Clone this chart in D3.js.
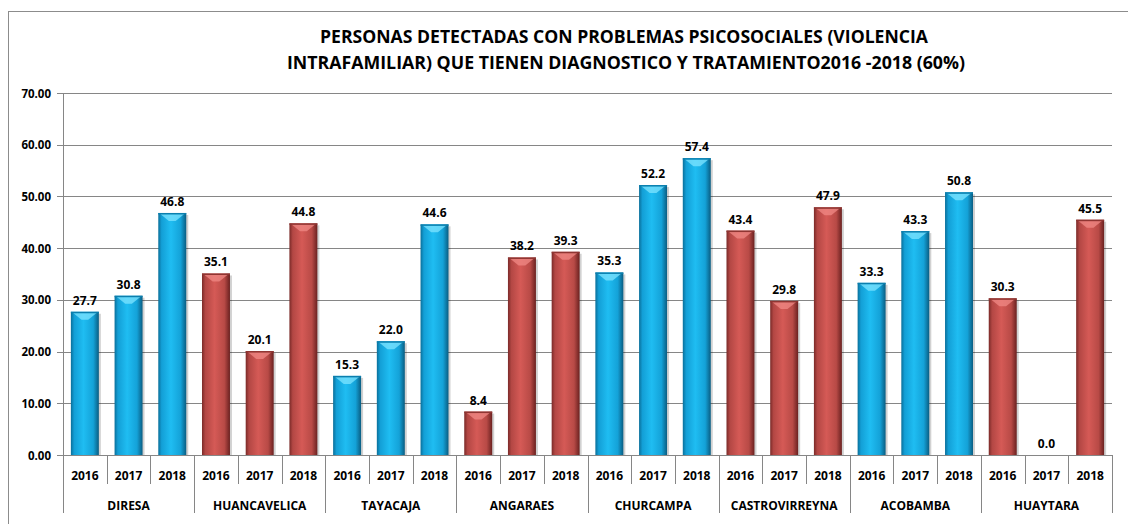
<!DOCTYPE html>
<html><head><meta charset="utf-8">
<script src="https://cdn.jsdelivr.net/npm/d3@7"></script>
<style>body{margin:0;background:#fff}svg{display:block}</style>
</head><body>
<script>
const groups = ["DIRESA","HUANCAVELICA","TAYACAJA","ANGARAES","CHURCAMPA","CASTROVIRREYNA","ACOBAMBA","HUAYTARA"];
const years = ["2016","2017","2018"];
const values = [
  [27.7,30.8,46.8],
  [35.1,20.1,44.8],
  [15.3,22.0,44.6],
  [8.4,38.2,39.3],
  [35.3,52.2,57.4],
  [43.4,29.8,47.9],
  [33.3,43.3,50.8],
  [30.3,0.0,45.5]
];
const groupColors = ["blue","red","blue","red","blue","red","blue","red"];
const yTicks = [0,10,20,30,40,50,60,70];
const titleLines = ["PERSONAS DETECTADAS CON PROBLEMAS PSICOSOCIALES (VIOLENCIA","INTRAFAMILIAR) QUE TIENEN DIAGNOSTICO Y TRATAMIENTO2016 -2018 (60%)"];

const W=1128,H=524;
const svg=d3.select("body").append("svg").attr("width",W).attr("height",H);
const defs=svg.append("defs");
function grad(id,stops){
  const g=defs.append("linearGradient").attr("id",id).attr("x1","0").attr("x2","1").attr("y1","0").attr("y2","0");
  stops.forEach(s=>g.append("stop").attr("offset",s[0]).attr("stop-color",s[1]));
}
grad("gblue",[[0,"#0a6f9a"],[0.12,"#139fd6"],[0.45,"#1fbdf2"],[0.8,"#14a2d8"],[1,"#0a5d82"]]);
grad("gred",[[0,"#7a2a28"],[0.12,"#b34744"],[0.45,"#d55a56"],[0.8,"#b84a46"],[1,"#6a2120"]]);

// chart border
svg.append("rect").attr("x",8.5).attr("y",11.5).attr("width",1130).attr("height",530).attr("fill","none").attr("stroke","#8c8c8c").attr("stroke-width",1);

const x0=63,x1=1112,yTop=93,yBot=455;
const y=d3.scaleLinear().domain([0,70]).range([yBot,yTop]);
const xg=d3.scaleBand().domain(groups).range([x0,x1]).padding(0);
const xy=d3.scaleBand().domain(years).range([0,xg.bandwidth()]).paddingInner(0.36).paddingOuter(0.18);
const slot=xg.bandwidth()/3;

// title
const tt=svg.append("g").attr("font-family","'Open Sans','Liberation Sans',Arial,sans-serif").attr("font-weight","bold").attr("font-size",17).attr("fill","#000").attr("text-anchor","middle");
tt.append("text").attr("x",624).attr("y",43).attr("textLength",608).attr("lengthAdjust","spacingAndGlyphs").text(titleLines[0]);
tt.append("text").attr("x",626).attr("y",69).attr("textLength",678).attr("lengthAdjust","spacingAndGlyphs").text(titleLines[1]);

// gridlines
svg.append("g").selectAll("line").data(yTicks).join("line")
  .attr("x1",x0-6).attr("x2",x1).attr("y1",d=>Math.round(y(d))+0.5).attr("y2",d=>Math.round(y(d))+0.5)
  .attr("stroke","#868686").attr("stroke-width",1);
svg.append("line").attr("x1",x0+0.5).attr("x2",x0+0.5).attr("y1",yTop).attr("y2",yBot).attr("stroke","#868686");

// y labels
svg.append("g").selectAll("text").data(yTicks).join("text")
  .attr("x",51).attr("y",d=>y(d)+4.5).attr("text-anchor","end")
  .attr("font-family","'Open Sans','Liberation Sans',Arial,sans-serif").attr("font-weight","bold").attr("font-size",11.5)
  .text(d=>d3.format(".2f")(d));

// bars
const data=[];
groups.forEach((g,i)=>years.forEach((yr,j)=>data.push({g,yr,v:values[i][j],c:groupColors[i]})));
const bars=svg.append("g");
data.forEach(d=>{
  const bx=xg(d.g)+xy(d.yr), bw=xy.bandwidth(), top=y(d.v), h=yBot-top;
  if(h<=0) return;
  bars.append("rect").attr("x",bx+2).attr("y",top+2).attr("width",bw).attr("height",h-2).attr("fill","#000").attr("opacity",0.18);
  bars.append("rect").attr("x",bx).attr("y",top).attr("width",bw).attr("height",h).attr("fill",`url(#g${d.c})`);
  const hl=d.c==="blue"?"#7fe4ff":"#f08a85";
  bars.append("path").attr("d",`M${bx+2},${top+1} L${bx+bw-2},${top+1} L${bx+bw*0.62},${top+8} L${bx+bw*0.38},${top+8} Z`).attr("fill",hl).attr("opacity",0.75);
  bars.append("rect").attr("x",bx).attr("y",top).attr("width",bw).attr("height",1.5).attr("fill",d.c==="blue"?"#0b7fae":"#8f3532");
});

// value labels
svg.append("g").selectAll("text").data(data).join("text")
  .attr("x",d=>xg(d.g)+xy(d.yr)+xy.bandwidth()/2).attr("y",d=>y(d.v)-7)
  .attr("text-anchor","middle").attr("font-family","'Open Sans','Liberation Sans',Arial,sans-serif").attr("font-weight","bold").attr("font-size",12)
  .text(d=>d3.format(".1f")(d.v));

// x axis
svg.append("line").attr("x1",x0-6).attr("x2",x1).attr("y1",yBot+0.5).attr("y2",yBot+0.5).attr("stroke","#868686");
const ax=svg.append("g").attr("stroke","#868686");
for(let k=0;k<=24;k++){
  const xx=Math.round(x0+k*slot)+0.5;
  const isG=k%3===0;
  ax.append("line").attr("x1",xx).attr("x2",xx).attr("y1",yBot).attr("y2",isG?513:484);
}
svg.append("g").selectAll("text").data(data).join("text")
  .attr("x",d=>xg(d.g)+xy(d.yr)+xy.bandwidth()/2).attr("y",480)
  .attr("text-anchor","middle").attr("font-family","'Open Sans','Liberation Sans',Arial,sans-serif").attr("font-weight","bold").attr("font-size",12)
  .text(d=>d.yr);
svg.append("g").selectAll("text").data(groups).join("text")
  .attr("x",d=>xg(d)+xg.bandwidth()/2).attr("y",510)
  .attr("text-anchor","middle").attr("font-family","'Open Sans','Liberation Sans',Arial,sans-serif").attr("font-weight","bold").attr("font-size",12)
  .text(d=>d);
</script>
</body></html>
